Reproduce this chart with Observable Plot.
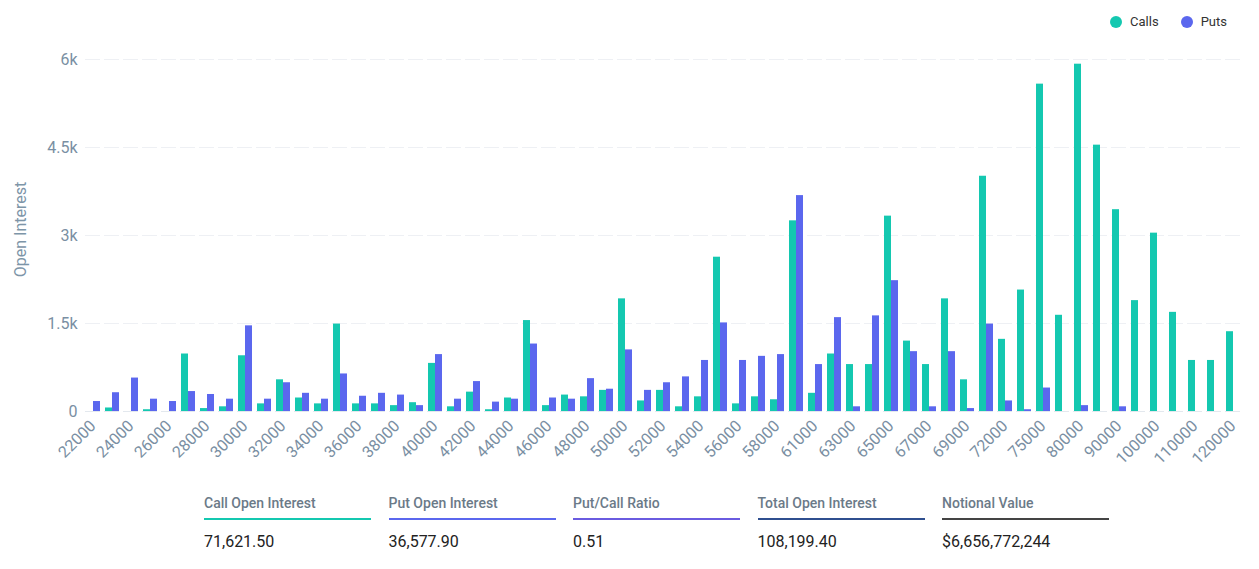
<!DOCTYPE html>
<html><head><meta charset="utf-8">
<script src="https://cdn.jsdelivr.net/npm/d3@7"></script>
<script src="https://cdn.jsdelivr.net/npm/@observablehq/plot@0.6"></script>
<style>
body{margin:0;background:#fff;font-family:Roboto,sans-serif;}
#wrap{position:relative;width:1259px;height:569px;}
#legend{position:absolute;top:14px;right:32px;font-size:13px;color:#333;display:flex;gap:22px;}
#legend span{display:inline-flex;align-items:center;gap:8px;}
#legend i{display:inline-block;width:12px;height:12px;border-radius:50%;}
#ylab{position:absolute;left:-30px;top:220px;transform:rotate(-90deg);font-size:16px;color:#7d95a8;width:100px;text-align:center;}
.stat{position:absolute;top:495px;width:167px;}
.stat .l{font-size:14px;color:#6b7a88;font-weight:500;padding-bottom:7px;}
.stat .v{font-size:16px;color:#222;margin-top:12px;}
</style></head><body>
<div id="wrap">
<div id="chart"></div>
<div id="legend"><span><i style="background:#14c8b0"></i>Calls</span><span><i style="background:#5b67ee"></i>Puts</span></div>
<div id="ylab">Open Interest</div>
<div id="stats"></div>
</div>
<script>
const strikes=[22000,23000,24000,25000,26000,27000,28000,29000,30000,31000,32000,33000,34000,35000,36000,37000,38000,39000,40000,41000,42000,43000,44000,45000,46000,47000,48000,49000,50000,51000,52000,53000,54000,55000,56000,57000,58000,60000,61000,62000,63000,64000,65000,66000,67000,68000,69000,70000,72000,74000,75000,76000,80000,85000,90000,95000,100000,105000,110000,115000,120000];
const calls=[0,60,0,30,0,980,50,80,950,130,540,230,130,1490,130,130,100,150,820,80,330,30,230,1550,100,280,250,360,1920,180,360,80,250,2630,130,250,200,3250,310,980,800,800,3330,1200,800,1920,540,4010,1230,2070,5580,1640,5920,4540,3440,1890,3040,1690,870,870,1360];
const puts=[170,320,570,210,170,340,290,210,1460,210,490,310,210,640,260,310,280,100,970,210,510,160,210,1150,230,210,560,380,1050,360,490,590,870,1510,870,940,970,3680,800,1600,80,1630,2230,1020,80,1020,50,1490,180,30,400,0,100,0,80,0,0,0,0,0,0];
const statLabels=["Call Open Interest","Put Open Interest","Put/Call Ratio","Total Open Interest","Notional Value"];
const statValues=["71,621.50","36,577.90","0.51","108,199.40","$6,656,772,244"];
const statColors=["#14c8b0","#5b67ee","#6a5be0","#2f4f8f","#444"];

const data=[];
strikes.forEach((s,i)=>{data.push({s,t:"Calls",v:calls[i]});data.push({s,t:"Puts",v:puts[i]});});
const labelSet=new Set(strikes.filter((d,i)=>i%2===0));
const chart=Plot.plot({
  width:1259,height:475,marginTop:59,marginBottom:64,marginLeft:72,marginRight:6,
  style:{fontFamily:"Roboto,sans-serif",fontSize:"16px",color:"#7a8fa3"},
  fx:{domain:strikes,padding:0.22,label:null,tickRotate:-45,tickFormat:d=>labelSet.has(d)?String(d):"",tickSize:0},
  x:{domain:["Calls","Puts"],axis:null,padding:0.05},
  y:{domain:[0,6000],ticks:[0,1500,3000,4500,6000],tickFormat:d=>d===0?"0":(d/1000)+"k",label:null,tickSize:0,tickPadding:8},
  color:{domain:["Calls","Puts"],range:["#14c8b0","#5b67ee"]},
  marks:[
    Plot.gridY([1500,3000,4500,6000],{stroke:"#eef0f4",strokeOpacity:1}),
    Plot.barY(data,{fx:"s",x:"t",y:"v",fill:"t"}),
    Plot.ruleY([0],{stroke:"#e3e8ee"})
  ]
});
document.getElementById("chart").appendChild(chart);
const st=document.getElementById("stats");
statLabels.forEach((l,i)=>{
  const d=document.createElement("div");d.className="stat";d.style.left=(204+i*184.5)+"px";
  d.innerHTML=`<div class="l" style="border-bottom:2px solid ${statColors[i]}">${l}</div><div class="v">${statValues[i]}</div>`;
  st.appendChild(d);
});
</script></body></html>
